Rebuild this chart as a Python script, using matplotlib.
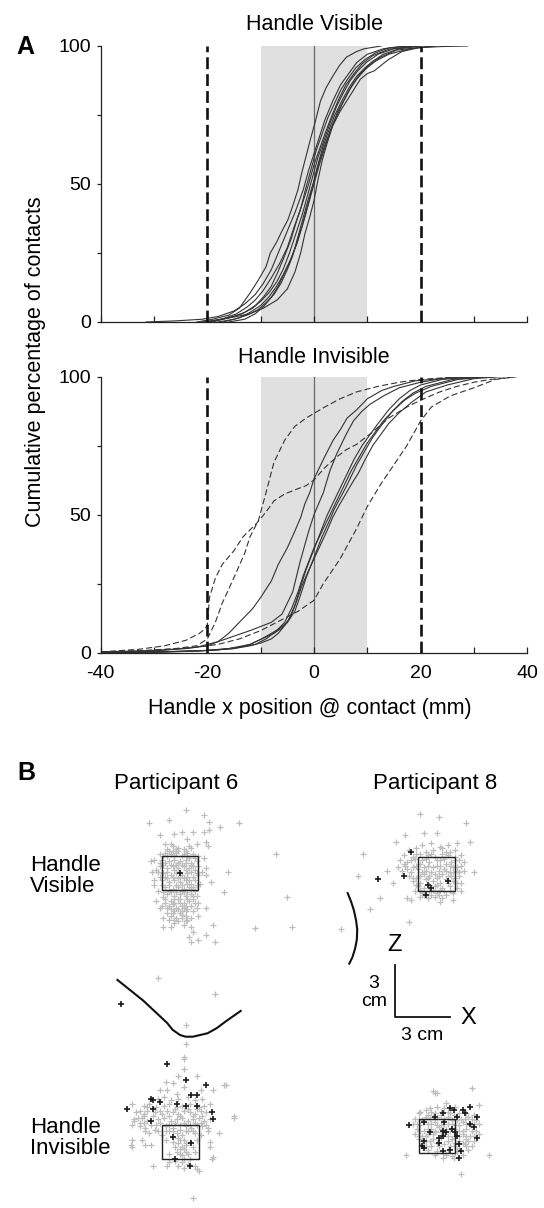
import numpy as np
import matplotlib
matplotlib.use("Agg")
import matplotlib.pyplot as plt
from matplotlib.patches import Rectangle

plt.rcParams['font.family'] = ['Liberation Sans', 'DejaVu Sans']
plt.rcParams['axes.unicode_minus'] = False

# ---------------- panel A : cumulative % of contacts vs handle x (mm) -------------
vis_x = [
    [-22, -19, -16, -14, -12, -10.5, -9, -8.2, -7, -6, -4.9, -4, -3, -2.3, -1.5, -0.7, 0.3, 1.2, 2.3, 3.5, 4.8, 6.1, 8, 9.4, 12.6],
    [-31.5, -26, -21, -18, -15, -13, -11, -9.5, -8, -6.5, -5, -3.5, -2, -1, 0, 1, 2, 3.5, 5, 6.5, 8, 10, 13, 17],
    [-20, -17, -14.5, -12.5, -11, -9.5, -8, -6.5, -5, -3.8, -2.5, -1.6, -0.6, 0.4, 1.5, 2.6, 3.8, 5, 6.3, 7.8, 9.5, 11.5, 14, 18],
    [-19, -16, -13.5, -11.5, -10, -8.5, -7, -5.8, -4.6, -3.4, -2.2, -1.2, -0.2, 0.8, 1.9, 3, 4.2, 5.5, 6.8, 8.2, 9.8, 12, 15, 20],
    [-18, -15, -12.5, -10.5, -9, -7.5, -6.2, -5, -4, -3, -2, -1, 0, 1, 2, 3.2, 4.4, 5.8, 7.2, 8.7, 10.3, 12.5, 15.5, 22],
    [-20, -17.3, -14.5, -12, -9.5, -6.9, -5, -3.6, -2.5, -1.7, -0.8, 0, 0.8, 1.6, 2.5, 3.5, 4.8, 6.1, 7.4, 8.7, 10, 11.3, 12.6, 13.9, 16.5, 19.7, 24, 28.8],
    [-17, -14, -12, -10, -8.5, -7, -5.8, -4.5, -3.3, -2.2, -1.2, -0.3, 0.6, 1.6, 2.7, 3.9, 5.2, 6.6, 8, 9.5, 11, 13, 16, 20],
    [-21, -18, -15, -13, -11, -9.5, -8, -6.8, -5.5, -4.3, -3.2, -2, -1, 0, 1.1, 2.2, 3.4, 4.7, 6, 7.5, 9, 11, 14, 19],
    [-16, -13, -11, -9.5, -8, -6.7, -5.5, -4.3, -3.1, -2, -1, 0, 1, 2, 3, 4.1, 5.3, 6.6, 8, 9.6, 11.5, 14, 18, 23],
]
vis_y = [
    [0, 1, 2.5, 5, 10.5, 15, 20, 25, 29, 33, 37, 42, 48, 54, 60, 66, 73, 80, 85, 89, 93, 96, 98, 99, 100],
    [0, 0.4, 1, 2, 4, 6.5, 10, 14, 19, 26, 33, 40, 48, 55, 61, 67, 73, 80, 86, 90, 94, 97, 99, 100],
    [0, 1.2, 3, 5.5, 8, 11.5, 16, 21, 27, 34, 41, 48, 55, 62, 68, 74, 79, 84, 88, 92, 95, 97.5, 99.3, 100],
    [0, 1.5, 3, 5, 7.5, 10.5, 14.5, 19, 25, 32, 39, 46, 53, 60, 66, 72, 78, 83, 87.5, 91, 94, 97, 99, 100],
    [0, 1, 2.5, 4.5, 7, 10, 14, 19, 24, 31, 38, 45, 51, 58, 64, 70, 76, 81, 86, 90, 93, 96, 98.5, 100],
    [0, 1, 2, 3, 5, 8, 12, 18, 25, 32, 38, 44, 52, 59, 65, 71, 76, 80, 84, 88, 90, 91, 93, 95, 98, 99.4, 99.8, 100],
    [0, 1.5, 3.5, 6, 9, 13, 17, 22, 28, 35, 42, 49, 56, 63, 69, 75, 80, 85, 89, 92, 94.5, 97, 99, 100],
    [0, 0.8, 2, 3.5, 6, 9, 13, 18, 24, 30, 37, 44, 50, 57, 63, 69, 75, 81, 86, 90, 93.5, 96.5, 98.8, 100],
    [0, 1, 3, 5.5, 9, 13, 18, 23, 29, 36, 43, 50, 57, 63, 69, 74, 79, 84, 88, 91.5, 94.5, 97, 99, 100],
]

# handle invisible: solid = one group of participants, dashed = the others
inv_solid_x = [
    [-40, -30, -24, -20, -18, -16, -14.5, -13, -11.5, -10, -8, -6.7, -5, -3.6, -2.5, -1.7, -0.8, 0, 1, 2, 3.6, 5, 6.2, 8, 10, 12.7, 15, 19, 25, 30],
    [-40, -30, -22, -18, -15, -12, -10, -8, -6, -4, -2.6, -1, 0, 1.75, 3, 4.25, 6, 7.4, 9, 10.5, 13, 16, 20, 24, 30],
    [-40, -30, -20, -15, -12, -10, -8, -6.7, -5, -3.6, -2.5, -1.5, -0.5, 0.5, 1.5, 2.5, 3.5, 4.5, 5.5, 6.5, 7.5, 9, 10.5, 12, 14, 16, 18, 20, 24, 30],
    [-40, -28, -20, -15, -12, -9.8, -8, -6.7, -5, -3.6, -2.5, -1.5, -0.5, 0.5, 1.5, 2.7, 3.8, 4.9, 6, 7, 8, 9.5, 11, 12.5, 14.5, 16.5, 18.5, 21, 26, 32],
    [-40, -25, -18, -14, -11, -9, -7, -5.5, -4.2, -3, -2, -1, 0, 1, 2, 3, 4, 5, 6, 7, 8.5, 10, 11.5, 13, 15, 17, 19, 22, 27, 33],
    [-40, -30, -22, -16, -12, -9.8, -7.5, -6, -4.5, -3.4, -2.3, -1.2, 0, 1.2, 2.4, 3.5, 4.6, 5.8, 7, 8.3, 9.6, 11, 12.5, 14, 16, 18.5, 21, 25, 30, 35],
]
inv_solid_y = [
    [0.3, 0.8, 1.5, 2.5, 4, 7, 10, 13, 16, 20, 26, 32, 38, 44, 49, 54, 58, 63, 67, 71, 77, 81, 85, 88, 92, 95, 96.5, 98.5, 99.5, 100],
    [0.2, 0.6, 2, 4, 6, 8, 9.5, 11, 14, 22, 33, 44, 50, 58, 66, 72, 79, 84, 87.5, 90, 93, 96, 98, 99.3, 100],
    [0.1, 0.3, 0.8, 1.5, 2.5, 3.5, 5, 7, 11, 17, 24, 30, 35, 40, 45, 50, 54, 58, 62, 66, 70, 75, 79, 83, 88, 92, 95, 97, 99, 100],
    [0, 0.3, 0.8, 1.5, 3, 5, 7, 8.5, 11, 15, 21, 27, 32, 37, 42, 47, 52, 56, 60, 64, 68, 73, 78, 82, 87, 91, 94, 96.5, 99, 100],
    [0, 0.4, 1, 2, 3, 5, 8, 11, 16, 22, 28, 33, 38, 42, 46, 50, 54, 58, 62, 66, 71, 76, 80, 84, 88, 91.5, 94, 96.5, 99, 100],
    [0, 0.2, 0.6, 1.5, 3, 5, 7, 9, 12.5, 18, 24, 29, 34, 39, 44, 49, 53, 57, 61, 65, 70, 75, 79, 83, 87, 91, 94.5, 97, 99.3, 100],
]
inv_dash_x = [
    [-40, -33, -28, -24, -21.5, -20.5, -20, -19.6, -18.5, -17.2, -15, -13.3, -12, -10.7, -9, -7.5, -5.5, -3.6, -1.5, 0, 2, 4.3, 6, 8, 11, 14, 17.4, 20, 23.6, 26.8, 30, 33, 38],
    [-40, -32, -26, -22, -20, -18.5, -17.2, -16, -14.6, -13, -12, -10.4, -9, -7.5, -5.5, -3.6, -1.5, 0, 2, 4.9, 8, 12, 16, 20, 25, 30],
    [-40, -30, -22, -18, -14, -10, -6, -3, 0, 1.75, 4.9, 8, 10, 12.5, 14.25, 17.4, 20, 22, 25.5, 30, 34, 38],
]
inv_dash_y = [
    [0.3, 1.2, 2.5, 4.5, 7, 8.5, 10, 20, 27, 32, 37, 42, 44.5, 47, 51, 55, 57.5, 59, 60.5, 62.6, 67, 71, 73.5, 75.5, 80, 85, 89, 91.5, 94.5, 96.5, 98, 99, 100],
    [0.2, 0.8, 1.5, 2.5, 5, 11, 18, 23, 29, 36, 42, 48, 58, 69, 77, 82, 85, 86.7, 89, 92, 94.5, 96.5, 98, 99, 99.7, 100],
    [0, 0.8, 2, 3, 5, 8, 12, 15, 19, 25, 34, 45, 53, 61, 66, 75, 84, 89, 93, 96, 99, 100],
]

# ---------------- panel B : contact positions (mm from handle centre, x right / z up) ----
p6_vis_grey = [
    (3, 37), (13, 34), (-17, 29), (-6, 31), (16, 30), (22, 27), (32, 29), (-11, 22), (-3, 23), (1, 24),
    (7, 24), (13, 24), (16, 25), (4, 20), (-8, 17), (-5, 17), (9, 17), (14, 18), (15, 16), (-2, 14),
    (5, 16), (-7, 14), (-16, 7), (-14, 8), (13, 9), (-15, 1), (-14, -4), (-14, -7), (14, 3), (14, -1),
    (17, -5), (26, 1), (24, -11), (-13, -16), (-11, -20), (14, -20), (10, -17), (10, -25), (-9, -31), (-5, -31),
    (18, -30), (6, -31), (7, -34), (5, -37), (14, -36), (6, -40), (10, -39), (19, -40), (-3, -27), (2, -30),
    (1, -24), (52, 11), (58, -14), (41, -32), (61, -31), (-12, -61), (19, -70),
    (-8, 12), (-5, 11), (-2, 12), (1, 10), (4, 12), (7, 11), (-10, 8), (-6, 7), (-3, 8), (0, 7),
    (3, 8), (6, 6), (9, 7), (-11, 4), (-7, 3), (-4, 4), (-1, 3), (2, 4), (5, 3), (8, 2),
    (-9, 0), (-5, -1), (-2, 0), (1, -1), (4, 0), (7, -2), (10, -1), (-10, -4), (-6, -5), (-3, -4),
    (0, -5), (3, -4), (6, -6), (-8, -8), (-4, -9), (-1, -8), (2, -9), (5, -8), (8, -10), (-7, -12),
    (-3, -13), (0, -12), (3, -13), (6, -12), (-9, -14), (-5, -16), (-1, -15), (2, -17), (5, -16), (-6, -19),
    (-2, -20), (1, -19), (4, -21), (-4, -23), (0, -23), (3, -25), (-7, -23), (-2, -26), (7, -22), (-12, -10),
    (11, -6), (9, -13), (-11, 11), (10, 10), (-13, 2), (12, 1), (-1, 15), (2, 14), (-4, 16), (6, 15),
    (-8, -17), (8, -17), (-7, 10), (-3, 10), (2, 11), (5, 9), (-9, 5), (-5, 5), (-1, 6), (3, 6),
    (7, 4), (-8, -2), (-4, -2), (0, -2), (4, -2), (8, -4), (-6, -10), (-2, -11), (2, -11), (6, -9),
    (-4, -18), (0, -17), (3, -19), (-3, -22), (1, -22), (-5, -25), (-1, -28), (4, -27), (-9, -26), (6, -26),
    (-6, 13), (-1, 13), (4, 10), (8, 9), (-11, 6), (-8, 6), (-2, 5), (1, 5), (6, 5), (10, 4),
    (-12, 1), (-7, 1), (-3, 2), (3, 2), (6, 1), (9, 0), (-11, -2), (-7, -3), (-1, -3), (2, -3),
    (5, -4), (9, -7), (-10, -7), (-6, -7), (-2, -7), (1, -7), (4, -6), (7, -8), (-9, -11), (-5, -11),
    (1, -10), (4, -11), (7, -13), (-8, -15), (-3, -15), (0, -15), (4, -15), (7, -15), (-7, -20), (-3, -17),
    (2, -20), (6, -19), (-5, -21), (-1, -21), (3, -22), (-6, -27), (1, -26), (-3, -29), (3, -28), (-10, -19),
    (9, -20), (-4, 13), (3, 13), (-9, 10),
]
p6_vis_black = [(0, 0)]

p6_inv_grey = [
    (2, 48), (2, 42), (-1, 38), (9, 38), (-8, 35), (-4, 34), (2, 32), (24, 33), (-11, 30), (-7, 30),
    (11, 30), (18, 30), (-2, 28), (-26, 22), (-22, 18), (-20, 15), (-25, 12), (-26, 10), (29, 15), (21, 5),
    (15, 6), (16, 0), (-26, 1), (-21, 1), (-19, -2), (-26, -3), (-16, -2), (16, -3), (17, -10), (-15, -14),
    (9, -16), (10, -17), (7, -33), (-6, -12), (25, 33), (29, 14), (-27, -2), (18, -9), (3, 68), (3, 57),
    (2, 49),
    (-12, 25), (-9, 26), (-5, 24), (-1, 25), (4, 26), (8, 24), (12, 25),
    (-20, 21), (-17, 22), (-13, 20), (-9, 21), (-6, 22), (-2, 20), (1, 21), (5, 22), (10, 20), (13, 21), (16, 22),
    (-24, 17), (-20, 16), (-18, 18), (-14, 17), (-10, 16), (-7, 18), (-4, 17), (-1, 16), (2, 18), (5, 17), (8, 16), (11, 18), (14, 17),
    (-25, 13), (-21, 14), (-18, 12), (-12, 13), (-9, 14), (-5, 12), (-2, 13), (1, 14), (4, 12), (7, 13), (10, 14), (13, 12), (16, 13),
    (-22, 9), (-19, 8), (-13, 10), (-8, 9), (-4, 8), (0, 10), (3, 9), (6, 8), (9, 10), (12, 9), (15, 8),
    (-17, 5), (-10, 4), (-6, 6), (-2, 5), (1, 4), (4, 6), (8, 5), (11, 4),
    (-8, 1), (-4, 0), (-1, 2), (2, 1), (5, 0), (9, 1),
    (-3, -3), (0, -4), (3, -2), (7, -3),
    (-6, -7), (-2, -6), (1, -8), (4, -7), (8, -6),
    (-3, -11), (1, -12), (5, -10), (-7, -14), (2, -15), (8, -14),
    (-15, 15), (-11, 18), (-6, 15), (-3, 19), (0, 15), (4, 19), (7, 15), (9, 19), (12, 15), (-22, 11),
    (-16, 10), (-11, 11), (-6, 10), (-3, 11), (2, 11), (5, 10), (8, 11), (11, 11), (14, 10), (-19, 6),
    (-14, 7), (-8, 6), (-4, 6), (0, 7), (3, 6), (7, 6), (-20, 11), (-12, 6), (0, 1), (3, -1),
    (-1, -1), (2, -4), (1, -3), (3, -6), (0, -7), (2, -10), (4, -13), (-1, -14), (-23, 14), (-18, 20),
]
p6_inv_black = [
    (-7, 45), (3, 36), (14, 33), (-16, 25), (-15, 24), (-11, 23), (-15, 19), (-29, 19), (-2, 22), (3, 21),
    (6, 27), (9, 27), (9, 21), (17, 17), (18, 13), (-16, 12), (-4, 3), (6, -1), (-3, -10), (5, -14),
    (-32, 80),
]

p8_vis_grey = [
    (-9, 35), (1, 33), (16, 30), (-17, 23), (-7, 24), (0, 24), (-22, 19), (11, 18), (18, 19), (-40, 12),
    (-27, 2), (-43, -1), (-24, -5), (-31, -14), (-36, -20), (20, 1), (12, 1), (13, -10), (9, -15), (-16, -14),
    (-14, -15), (2, -16), (-15, -28), (-52, -32),
    (-8, 17), (-3, 18), (2, 16), (6, 17),
    (-15, 14), (-11, 15), (-6, 13), (-2, 14), (3, 15), (7, 13), (10, 14),
    (-18, 11), (-13, 10), (-9, 12), (-5, 11), (-1, 10), (3, 12), (6, 11), (10, 10), (13, 11),
    (-20, 8), (-16, 7), (-12, 9), (-8, 8), (-4, 7), (0, 8), (4, 9), (8, 7), (12, 8),
    (-17, 5), (-13, 4), (-9, 6), (-5, 5), (-2, 4), (2, 5), (5, 6), (9, 4), (13, 5),
    (-19, 2), (-14, 1), (-10, 3), (-6, 2), (-3, 1), (1, 2), (4, 3), (7, 1), (11, 2),
    (-15, -1), (-11, -2), (-7, 0), (-4, -1), (0, -2), (3, 0), (6, -1), (10, -2),
    (-13, -4), (-9, -5), (-6, -3), (-2, -4), (2, -5), (5, -3), (9, -4), (13, -5),
    (-10, -7), (-7, -8), (-1, -7), (3, -8), (7, -7), (11, -8),
    (-12, -10), (-8, -11), (-4, -10), (0, -11), (4, -10), (9, -11),
    (-9, -13), (-5, -14), (-1, -13), (3, -14),
    (-11, 12), (-3, 12), (5, 13), (-14, 8), (-6, 9), (2, 8), (10, 8), (-11, 5), (-7, 4), (0, 5),
    (7, 5), (11, 4), (-16, 3), (-8, 1), (-1, 0), (5, 2), (9, 1), (-13, -2), (-9, -1), (-5, -2),
    (1, -1), (8, -1), (12, -1), (-11, -6), (-4, -6), (0, -6), (6, -5), (11, -5), (-9, -9), (-2, -9),
    (2, -9), (7, -10), (-7, -12), (-3, -12), (1, -12), (5, -12), (-18, 6), (-21, 4), (15, 7), (15, 2),
]
p8_vis_black = [(-14, 13), (-32, -3), (-18, -1), (6, -4), (-5, -6), (-3, -8), (-6, -12)]

p8_inv_grey = [
    (-1, 25), (0, 25), (19, 28), (23, 18), (-9, 14), (-6, 15), (5, 19), (-17, -11), (28, -11), (3, -13),
    (9, -13), (13, -22), (5, -11), (-2, 26),
    (-4, 16), (0, 17), (4, 16), (10, 17),
    (-10, 13), (-5, 12), (-1, 13), (6, 14), (9, 12), (16, 13), (20, 12),
    (-12, 10), (-8, 9), (-4, 10), (0, 11), (4, 10), (8, 9), (13, 10), (17, 11), (21, 9),
    (-13, 7), (-9, 6), (-5, 7), (-1, 8), (2, 6), (6, 7), (10, 6), (14, 8), (18, 6), (23, 7),
    (-11, 4), (-7, 3), (-3, 4), (1, 5), (5, 4), (12, 3), (16, 4), (21, 3),
    (-12, 1), (-8, 0), (-5, 1), (-1, 2), (6, 0), (14, 1), (18, 0), (23, 1),
    (-10, -2), (-6, -3), (-2, -2), (2, -1), (8, -2), (12, -3), (16, -2), (20, -3),
    (-8, -5), (-3, -6), (4, -5), (9, -6), (15, -5), (19, -6),
    (-5, -8), (0, -9), (6, -8), (11, -9), (17, -8),
    (-1, -11), (8, -12), (14, -11),
    (-3, 14), (2, 14), (7, 13), (12, 13), (-10, 10), (-6, 11), (-2, 11), (2, 12), (6, 11), (11, 9),
    (15, 10), (19, 10), (-11, 7), (-7, 8), (-3, 7), (0, 6), (4, 7), (8, 7), (12, 6), (16, 7),
    (20, 7), (-9, 3), (-5, 4), (-1, 3), (3, 4), (7, 3), (10, 4), (14, 3), (19, 3), (-10, 0),
    (-6, 0), (-2, 1), (2, 2), (4, 1), (9, 0), (12, 0), (16, 0), (20, 0), (-8, -3), (-4, -3),
    (0, -4), (6, -3), (10, -4), (14, -4), (17, -3), (-6, -6), (1, -6), (7, -6), (12, -7), (16, -6),
    (3, -10), (10, -10),
]
p8_inv_black = [
    (-15, 6), (-7, 8), (-1, 11), (3, 13), (7, 16), (9, 15), (14, 15), (15, 13), (18, 17), (22, 11),
    (11, 11), (4, 8), (-4, 2), (3, 3), (5, 2), (8, 4), (10, 2), (11, 0), (3, 0), (1, -1),
    (18, 7), (20, 5), (22, -1), (-7, -3), (1, -4), (12, -5), (13, -9), (-7, -7), (3, -9), (7, -8),
    (12, -13), (-8, -6),
]

# handle path outlines (mm, same frame as the participant next to them)
u_path = [(-34, -62), (-27, -68), (-20, -74), (-13, -81), (-7, -87), (-4, -91), (0, -94), (3, -95),
          (7, -95), (11, -94), (15, -93), (20, -90), (25, -86), (33, -80)]
arc_path = [(-48.4, -11), (-46.5, -16), (-45, -21), (-43.8, -27), (-43.2, -32), (-43.4, -38),
            (-44.3, -43), (-45.7, -48), (-47.5, -52)]

# ---------------- figure ----------------
W, H = 544, 1208
fig = plt.figure(figsize=(W / 100, H / 100), dpi=100)

def frame(left, top, right, bottom):
    return [left / W, 1 - bottom / H, (right - left) / W, (bottom - top) / H]

ax_top = fig.add_axes(frame(100.7, 46, 527.3, 322))
ax_bot = fig.add_axes(frame(100.7, 376.7, 527.3, 652.7))

for ax in (ax_top, ax_bot):
    ax.axvspan(-10, 10, color='#e0e0e0', lw=0, zorder=0)
    ax.axvline(0, color='#6a6a6a', lw=0.9, zorder=1)
    for xv in (-20, 20):
        ax.axvline(xv, color='#111111', lw=1.9, dashes=(4.5, 1.9), zorder=3)
    ax.set_xlim(-40, 40)
    ax.set_ylim(0, 100)
    for s in ('top', 'right'):
        ax.spines[s].set_visible(False)
    for s in ('left', 'bottom'):
        ax.spines[s].set_linewidth(0.9)
        ax.spines[s].set_color('#222222')
    ax.set_yticks([0, 50, 100])
    ax.set_yticks([25, 75], minor=True)
    ax.set_xticks([-40, -20, 0, 20, 40])
    ax.set_xticks([-30, -10, 10, 30], minor=True)
    ax.tick_params(axis='y', which='both', direction='out', length=3.2, width=0.9,
                   labelsize=14, pad=4, color='#222222')
    ax.tick_params(axis='x', which='both', direction='in', length=4, width=0.9,
                   labelsize=14, pad=9, color='#222222')
    ax.set_facecolor('none')

ax_top.tick_params(axis='x', labelbottom=False)

for xs, ys in zip(vis_x, vis_y):
    ax_top.plot(xs, ys, color='#333333', lw=0.8, zorder=2)
for xs, ys in zip(inv_solid_x, inv_solid_y):
    ax_bot.plot(xs, ys, color='#333333', lw=0.8, zorder=2)
for xs, ys in zip(inv_dash_x, inv_dash_y):
    ax_bot.plot(xs, ys, color='#333333', lw=0.8, dashes=(5.5, 2.7), zorder=2)

# overlay in pixel coordinates for panel B and free text
ov = fig.add_axes([0, 0, 1, 1])
ov.set_xlim(0, W)
ov.set_ylim(H, 0)
ov.axis('off')

SX, SY = 1.84, 1.72   # px per mm (x, z)

def put(points, cx, cy, **kw):
    p = np.array(points, dtype=float)
    ov.plot(cx + p[:, 0] * SX, cy - p[:, 1] * SY, ls='none', marker='+', **kw)

grey = dict(color='#bdbdbd', ms=4.5, mew=0.9, zorder=2)
black = dict(color='#1a1a1a', ms=4.6, mew=1.2, zorder=4)

centres = {'p6v': (180, 873.3), 'p8v': (436.7, 874.2), 'p6i': (180.3, 1141.7), 'p8i': (437, 1135.8)}
sets = [('p6v', p6_vis_grey, p6_vis_black), ('p8v', p8_vis_grey, p8_vis_black),
        ('p6i', p6_inv_grey, p6_inv_black), ('p8i', p8_inv_grey, p8_inv_black)]
for key, g, b in sets:
    cx, cy = centres[key]
    put(g, cx, cy, **grey)
    ov.add_patch(Rectangle((cx - 10 * SX, cy - 10 * SY), 20 * SX, 20 * SY,
                           fill=False, ec='#222222', lw=1.0, zorder=3))
    put(b, cx, cy, **black)

for path, key in ((u_path, 'p6v'), (arc_path, 'p8v')):
    cx, cy = centres[key]
    p = np.array(path)
    ov.plot(cx + p[:, 0] * SX, cy - p[:, 1] * SY, color='#111111', lw=1.5, zorder=3)

# scale bar, 3 cm each way
bx, by = 394.7, 1016.7
ov.plot([bx, bx, bx + 30 * SX], [by - 30 * SY, by, by], color='#111111', lw=1.3)
ov.text(374, 992.5, '3\ncm', ha='center', va='center', fontsize=14, linespacing=1.05)
ov.text(421.7, 1035, '3 cm', ha='center', va='center', fontsize=14)
ov.text(395, 944.7, 'Z', ha='center', va='center', fontsize=17)
ov.text(468.3, 1018.3, 'X', ha='center', va='center', fontsize=17)

# text
ov.text(16, 46.7, 'A', fontsize=18, fontweight='bold', ha='left', va='center')
ov.text(17, 773, 'B', fontsize=18, fontweight='bold', ha='left', va='center')
ov.text(314, 30, 'Handle Visible', fontsize=15.5, ha='center', va='baseline')
ov.text(314, 363.3, 'Handle Invisible', fontsize=15.5, ha='center', va='baseline')
ov.text(310, 714, 'Handle x position @ contact (mm)', fontsize=15.5, ha='center', va='baseline')
ov.text(36, 362, 'Cumulative percentage of contacts', fontsize=15.5, rotation=90,
        ha='center', va='center')
ov.text(176, 783.7, 'Participant 6', fontsize=16, ha='center', va='center')
ov.text(435, 783.7, 'Participant 8', fontsize=16, ha='center', va='center')
ov.text(30, 876, 'Handle\nVisible', fontsize=16, ha='left', va='center', linespacing=1.0)
ov.text(30, 1138, 'Handle\nInvisible', fontsize=16, ha='left', va='center', linespacing=1.0)

fig.savefig('out.png', dpi=100)
